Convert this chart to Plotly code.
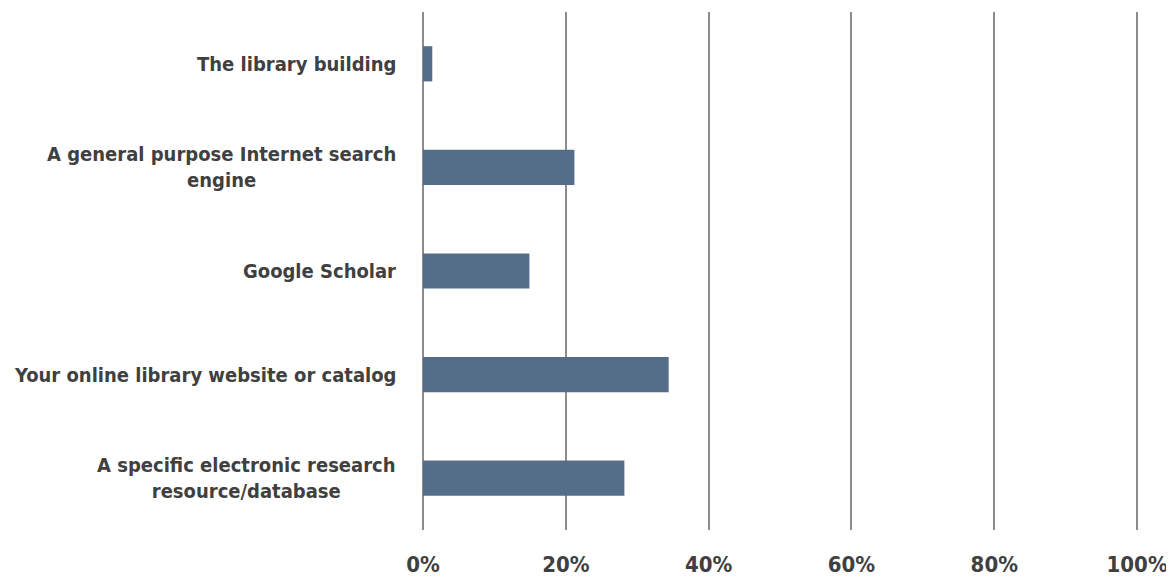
'''
    Horizontal bar chart: where respondents start their research
'''

import plotly.graph_objects as go

categories = [
    "The library building",
    "A general purpose Internet search<br>engine",
    "Google Scholar",
    "Your online library website or catalog",
    "A specific electronic research<br>resource/database",
]
shares = [0.013, 0.212, 0.149, 0.344, 0.282]
tick_values = [0, 0.2, 0.4, 0.6, 0.8, 1.0]

FONT = "DejaVu Sans Condensed, Liberation Sans Narrow, Arial Narrow, sans-serif"
TEXT = "#404040"
GRID = "#8c8c8c"


def init_figure():
    # the page body adds an 8px margin, so the figure is 8px smaller
    fig = go.Figure()
    fig.update_layout(
        width=1166,
        height=573,
        margin=dict(l=415, r=34, t=4, b=51, autoexpand=False),
        paper_bgcolor="white",
        plot_bgcolor="white",
        bargap=0.66,
        showlegend=False,
        font=dict(family=FONT, color=TEXT),
    )
    return fig


def draw_bars(fig):
    fig.add_trace(go.Bar(
        x=shares,
        y=categories,
        orientation="h",
        marker=dict(color="#546E8A", line=dict(width=0)),
        hovertemplate="%{y}: %{x:.0%}<extra></extra>",
    ))
    # range a touch past 100% so the last gridline is not dropped at the edge
    fig.update_xaxes(
        range=[0, 1.004],
        tickvals=tick_values,
        tickformat=".0%",
        showgrid=True,
        gridcolor=GRID,
        gridwidth=2,
        zeroline=True,
        zerolinecolor=GRID,
        zerolinewidth=2,
        showline=False,
        ticks="",
        ticklabelstandoff=19,
        tickfont=dict(family=FONT, size=22, color=TEXT, weight="bold"),
        fixedrange=True,
    )
    fig.update_yaxes(
        categoryorder="array",
        categoryarray=categories[::-1],
        showticklabels=False,
        showgrid=False,
        zeroline=False,
        showline=False,
        ticks="",
        fixedrange=True,
    )
    # category labels as centred annotations (multi-line labels are centred)
    for cat in categories:
        fig.add_annotation(
            x=0, xref="paper", xanchor="right", xshift=-25,
            y=cat, yref="y", yanchor="middle",
            text=cat, showarrow=False, align="center",
            font=dict(family=FONT, size=20, color=TEXT, weight="bold"),
        )
    return fig


fig = draw_bars(init_figure())
fig.write_html("out.html")
